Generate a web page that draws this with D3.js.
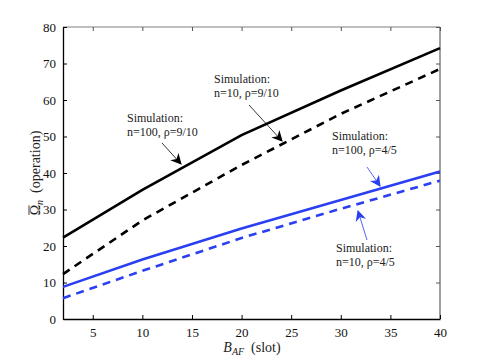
<!DOCTYPE html>
<html>
<head>
<meta charset="utf-8">
<script src="https://cdn.jsdelivr.net/npm/d3@7"></script>
<style>
  body { margin: 0; background: #fff; }
</style>
</head>
<body>
<div id="plot"></div>
<script>
// data
const bafSlots = [2, 10, 20, 30, 40];
const n100rho910 = [22.3, 35.4, 50.4, 62.6, 74.2];
const n10rho910 = [12.3, 27.0, 42.2, 56.2, 68.5];
const n100rho45 = [8.8, 16.3, 24.8, 32.6, 40.4];
const n10rho45 = [5.7, 13.2, 22.2, 30.2, 37.9];
const xTicks = [5, 10, 15, 20, 25, 30, 35, 40];
const yTicks = [0, 10, 20, 30, 40, 50, 60, 70, 80];

const SERIF = "'Liberation Serif', 'Times New Roman', 'DejaVu Serif', serif";
const BLUE = "#2b3ff2";

const series = [
    { values: n100rho910, color: "#000", dash: null },
    { values: n10rho910, color: "#000", dash: "8,6" },
    { values: n100rho45, color: BLUE, dash: null },
    { values: n10rho45, color: BLUE, dash: "8,6" }
];

const W = 485, H = 360;
const margin = { top: 27, left: 63, bottom: 41, right: 45 };
const width = W - margin.left - margin.right,
    height = H - margin.top - margin.bottom;

const svg = d3.select("#plot").append("svg")
    .attr("width", W)
    .attr("height", H)
    .style("font-family", SERIF);

const plot = svg.append("g")
    .attr("transform", `translate(${margin.left},${margin.top})`);

const xScale = d3.scaleLinear().domain([2, 40]).range([0, width]);
const yScale = d3.scaleLinear().domain([0, 80]).range([height, 0]);

// box: top and right in grey
plot.append("line").attr("x1", 0).attr("x2", width).attr("y1", 0).attr("y2", 0)
    .attr("stroke", "#808080").attr("stroke-width", 1.2);
plot.append("line").attr("x1", width).attr("x2", width).attr("y1", 0).attr("y2", height)
    .attr("stroke", "#808080").attr("stroke-width", 1.5);

// mirrored ticks on top / right
plot.append("g")
    .call(d3.axisTop(xScale).tickValues(xTicks).tickSize(-4).tickFormat(""))
    .call(g => g.select(".domain").remove())
    .selectAll("line").attr("stroke", "#555");
plot.append("g")
    .attr("transform", `translate(${width},0)`)
    .call(d3.axisRight(yScale).tickValues(yTicks).tickSize(-4).tickFormat(""))
    .call(g => g.select(".domain").remove())
    .selectAll("line").attr("stroke", "#555");

// bottom axis
const xAxis = plot.append("g")
    .attr("transform", `translate(0,${height})`)
    .call(d3.axisBottom(xScale).tickValues(xTicks).tickSizeInner(-4).tickSizeOuter(0).tickPadding(9));
xAxis.attr("font-family", null);
xAxis.select(".domain").attr("stroke", "#000").attr("stroke-width", 1.3);
xAxis.selectAll("text").style("font-family", SERIF).style("font-size", "13px").attr("fill", "#111");

// left axis
const yAxis = plot.append("g")
    .call(d3.axisLeft(yScale).tickValues(yTicks).tickSizeInner(-4).tickSizeOuter(0).tickPadding(7));
yAxis.attr("font-family", null);
yAxis.select(".domain").attr("stroke", "#000").attr("stroke-width", 1.3);
yAxis.selectAll("text").style("font-family", SERIF).style("font-size", "13px").attr("fill", "#111");

// curves
const line = d3.line()
    .x((d, i) => xScale(bafSlots[i]))
    .y(d => yScale(d));

plot.append("g").selectAll("path")
    .data(series)
    .enter()
    .append("path")
    .attr("d", d => line(d.values))
    .attr("fill", "none")
    .attr("stroke", d => d.color)
    .attr("stroke-width", 2.6)
    .attr("stroke-dasharray", d => d.dash);

// annotations (page coordinates)
const defs = svg.append("defs");
function marker(id, color) {
    defs.append("marker")
        .attr("id", id)
        .attr("viewBox", "0 0 10 10")
        .attr("refX", 9).attr("refY", 5)
        .attr("markerWidth", 11).attr("markerHeight", 11)
        .attr("markerUnits", "userSpaceOnUse")
        .attr("orient", "auto")
        .append("path")
        .attr("d", "M0,0 L10,5 L0,10 L3,5 Z")
        .attr("fill", color);
}
marker("arrK", "#000");
marker("arrB", BLUE);

const notes = [
    { lines: ["Simulation:", "n=100, \u03c1=9/10"], x: 127, y: 122, from: [162, 143], to: [181, 164], color: "#000", m: "arrK" },
    { lines: ["Simulation:", "n=10, \u03c1=9/10"], x: 214, y: 83, from: [249, 105], to: [282, 141], color: "#000", m: "arrK" },
    { lines: ["Simulation:", "n=100, \u03c1=4/5"], x: 332, y: 140, from: [367, 167], to: [380, 186], color: BLUE, m: "arrB" },
    { lines: ["Simulation:", "n=10, \u03c1=4/5"], x: 336, y: 252, from: [367, 240], to: [358, 211], color: BLUE, m: "arrB" }
];

const ann = svg.append("g");
for (const n of notes) {
    const t = ann.append("text")
        .attr("x", n.x).attr("y", n.y)
        .style("font-family", SERIF)
        .style("font-size", "12px")
        .attr("fill", "#222");
    n.lines.forEach((s, i) => {
        t.append("tspan").attr("x", n.x).attr("dy", i === 0 ? 0 : 14).text(s);
    });
    ann.append("line")
        .attr("x1", n.from[0]).attr("y1", n.from[1])
        .attr("x2", n.to[0]).attr("y2", n.to[1])
        .attr("stroke", n.color)
        .attr("stroke-width", 0.8)
        .attr("marker-end", `url(#${n.m})`);
}

// axis labels
const xl = svg.append("text")
    .attr("x", 252).attr("y", 352)
    .attr("text-anchor", "middle")
    .style("font-family", SERIF)
    .style("font-size", "14px")
    .attr("fill", "#222");
xl.append("tspan").attr("font-style", "italic").text("B");
xl.append("tspan").attr("font-style", "italic").attr("font-size", "10px").attr("dy", 3).text("AF");
xl.append("tspan").attr("dy", -3).text("\u2002(slot)");

const yg = svg.append("g")
    .attr("transform", `translate(40,${margin.top + height / 2}) rotate(-90)`);
const yl = yg.append("text")
    .attr("x", 0).attr("y", 0)
    .attr("text-anchor", "middle")
    .style("font-family", SERIF)
    .style("font-size", "14px")
    .attr("fill", "#222");
const omega = yl.append("tspan").text("\u03a9");
yl.append("tspan").attr("font-style", "italic").attr("font-size", "10px").attr("dy", 3).text("n");
yl.append("tspan").attr("dy", -3).text("\u2002(operation)");
// overline on Omega
const ob = omega.node().getExtentOfChar ? yl.node().getExtentOfChar(0) : null;
if (ob) {
    yg.append("line")
        .attr("x1", ob.x + 0.5).attr("x2", ob.x + ob.width - 0.5)
        .attr("y1", ob.y + 1).attr("y2", ob.y + 1)
        .attr("stroke", "#222").attr("stroke-width", 0.9);
}
</script>
</body>
</html>
